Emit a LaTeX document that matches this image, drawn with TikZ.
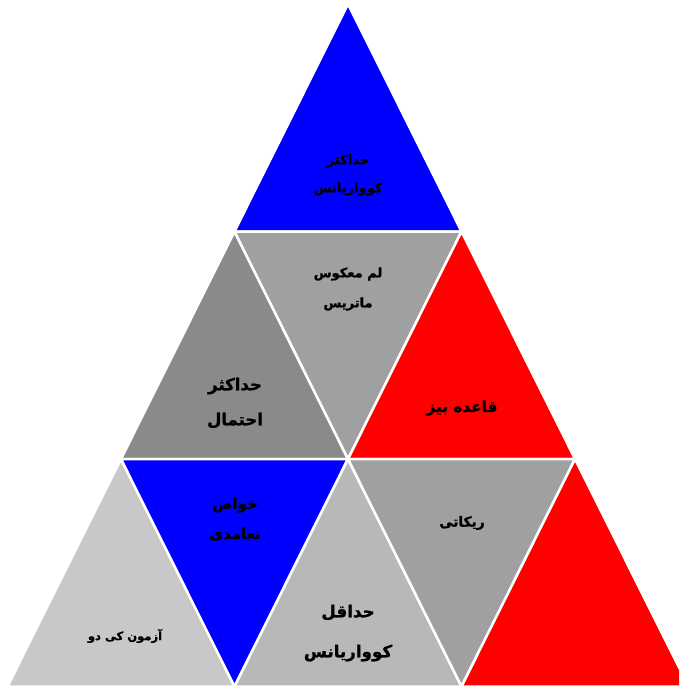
\documentclass[tikz,border=0pt]{standalone}
\usepackage{fontspec}
\TeXXeTstate=1
\newfontfamily\arabicfont[Script=Arabic,BoldFeatures={FakeBold=1.2}]{DejaVu Sans}
\definecolor{cblue}{RGB}{0,0,255}
\definecolor{cred}{RGB}{255,0,0}
\definecolor{gA}{RGB}{138,138,138}
\definecolor{gB}{RGB}{160,160,160}
\definecolor{gC}{RGB}{200,200,200}
\definecolor{gD}{RGB}{184,184,184}
\tikzset{
  tri/.style={draw=white, line width=2.5pt, line join=miter},
  lbl/.style 2 args={font=\arabicfont\bfseries\fontsize{#1}{#2}\selectfont, align=center, text=black, inner sep=0pt}
}
\begin{document}
\begin{tikzpicture}[x=1pt,y=-1pt]
\useasboundingbox (0,0) rectangle (679,687);
\clip (0,0) rectangle (679,687);
% grid vertices
\coordinate (v00) at (348,4);
\coordinate (v10) at (234.5,231.5);
\coordinate (v11) at (461.5,231.5);
\coordinate (v20) at (121,459);
\coordinate (v21) at (348,459);
\coordinate (v22) at (575,459);
\coordinate (v30) at (7.5,686.5);
\coordinate (v31) at (234.5,686.5);
\coordinate (v32) at (461.5,686.5);
\coordinate (v33) at (688.5,686.5);
% row 1
\filldraw[tri, fill=cblue] (v00) -- (v10) -- (v11) -- cycle;
% row 2
\filldraw[tri, fill=gA] (v10) -- (v20) -- (v21) -- cycle;
\filldraw[tri, fill=gB] (v10) -- (v11) -- (v21) -- cycle;
\filldraw[tri, fill=cred] (v11) -- (v21) -- (v22) -- cycle;
% row 3
\filldraw[tri, fill=gC] (v20) -- (v30) -- (v31) -- cycle;
\filldraw[tri, fill=cblue] (v20) -- (v21) -- (v31) -- cycle;
\filldraw[tri, fill=gD] (v21) -- (v31) -- (v32) -- cycle;
\filldraw[tri, fill=gB] (v21) -- (v22) -- (v32) -- cycle;
\filldraw[tri, fill=cred] (v22) -- (v32) -- (v33) -- cycle;
% labels
\node[lbl={13}{28}] (t1) at (348,175) {\beginR حداکثر\endR\\\beginR کوواریانس\endR};
\node[lbl={13}{30}] (t2) at (348,289) {\beginR لم معکوس\endR\\\beginR ماتریس\endR};
\node[lbl={16.5}{35}] (t3) at (235,403) {\beginR حداکثر\endR\\\beginR احتمال\endR};
\node[lbl={15.3}{30}] (t4) at (462,408) {\beginR قاعده بیز\endR};
\node[lbl={15}{30}] (t5) at (235,519) {\beginR خواص\endR\\\beginR تعامدی\endR};
\node[lbl={13.8}{30}] (t6) at (462,523) {\beginR ریکاتی\endR};
\node[lbl={11.5}{30}] (t7) at (125,636) {\beginR آزمون کی دو\endR};
\node[lbl={16.7}{40}] (t8) at (348,633) {\beginR حداقل\endR\\\beginR کوواریانس\endR};
\end{tikzpicture}
\end{document}
